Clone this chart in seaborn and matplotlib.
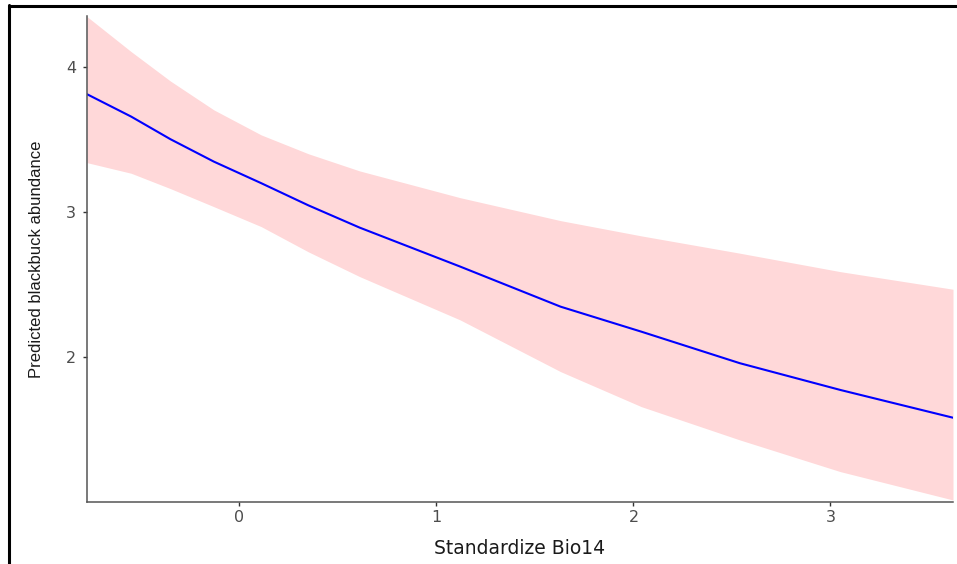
import numpy as np
import pandas as pd
import matplotlib
matplotlib.use("Agg")
import matplotlib.pyplot as plt
from matplotlib.lines import Line2D
import seaborn as sns

# Data
bio14 = [-0.774, -0.55, -0.35, -0.13, 0.11, 0.35, 0.61, 1.12, 1.63, 2.04, 2.54, 3.05, 3.622]
predicted = [3.81, 3.656, 3.50, 3.346, 3.198, 3.045, 2.892, 2.624, 2.348, 2.176, 1.959, 1.775, 1.584]
upper_ci = [4.344, 4.103, 3.90, 3.702, 3.530, 3.400, 3.282, 3.098, 2.940, 2.835, 2.716, 2.589, 2.468]
lower_ci = [3.339, 3.266, 3.16, 3.036, 2.899, 2.725, 2.555, 2.257, 1.901, 1.660, 1.431, 1.213, 1.018]
x_ticks = [0, 1, 2, 3]
y_ticks = [2, 3, 4]

df = pd.DataFrame({"bio14": bio14, "pred": predicted, "lo": lower_ci, "hi": upper_ci})

sns.set_theme(style="white")
plt.rcParams["font.family"] = ["DejaVu Sans"]

W, H = 957, 564
fig = plt.figure(figsize=(W / 100, H / 100), dpi=100)
ax = fig.add_axes([87 / W, (H - 502) / H, (953 - 87) / W, (502 - 16) / H])

ax.fill_between(df["bio14"], df["lo"], df["hi"], color="#FFD8D9", linewidth=0)
sns.lineplot(data=df, x="bio14", y="pred", ax=ax, color="#0000FF", linewidth=1.5)

ax.set_xlim(-0.774, 3.622)
ax.set_ylim(1.004, 4.348)
ax.set_xticks(x_ticks)
ax.set_yticks(y_ticks)
ax.set_xticklabels([str(v) for v in x_ticks])
ax.set_yticklabels([str(v) for v in y_ticks])

for side in ["top", "right"]:
    ax.spines[side].set_visible(False)
for side in ["left", "bottom"]:
    ax.spines[side].set_color("#555555")
    ax.spines[side].set_linewidth(1.1)

ax.tick_params(axis="both", which="major", length=3, width=1.0, color="#333333",
               labelcolor="#4D4D4D", labelsize=11.5, direction="out")
ax.tick_params(axis="x", bottom=True, pad=2.5)
ax.tick_params(axis="y", left=True, pad=5)

ax.set_xlabel("Standardize Bio14", fontsize=13.5, color="#1a1a1a", labelpad=10)
ax.set_ylabel("Predicted blackbuck abundance", fontsize=12, color="#1a1a1a",
              labelpad=16, family=["Liberation Sans", "DejaVu Sans"])

# outer frame lines (top and left edges of the screenshot)
fig.add_artist(Line2D([8.5 / W, 1.0], [1 - 6 / H, 1 - 6 / H], color="black", linewidth=2.2,
                      transform=fig.transFigure))
fig.add_artist(Line2D([9 / W, 9 / W], [0, 1 - 5 / H], color="black", linewidth=2.2,
                      transform=fig.transFigure))

fig.savefig("out.png", dpi=100, facecolor="white")
